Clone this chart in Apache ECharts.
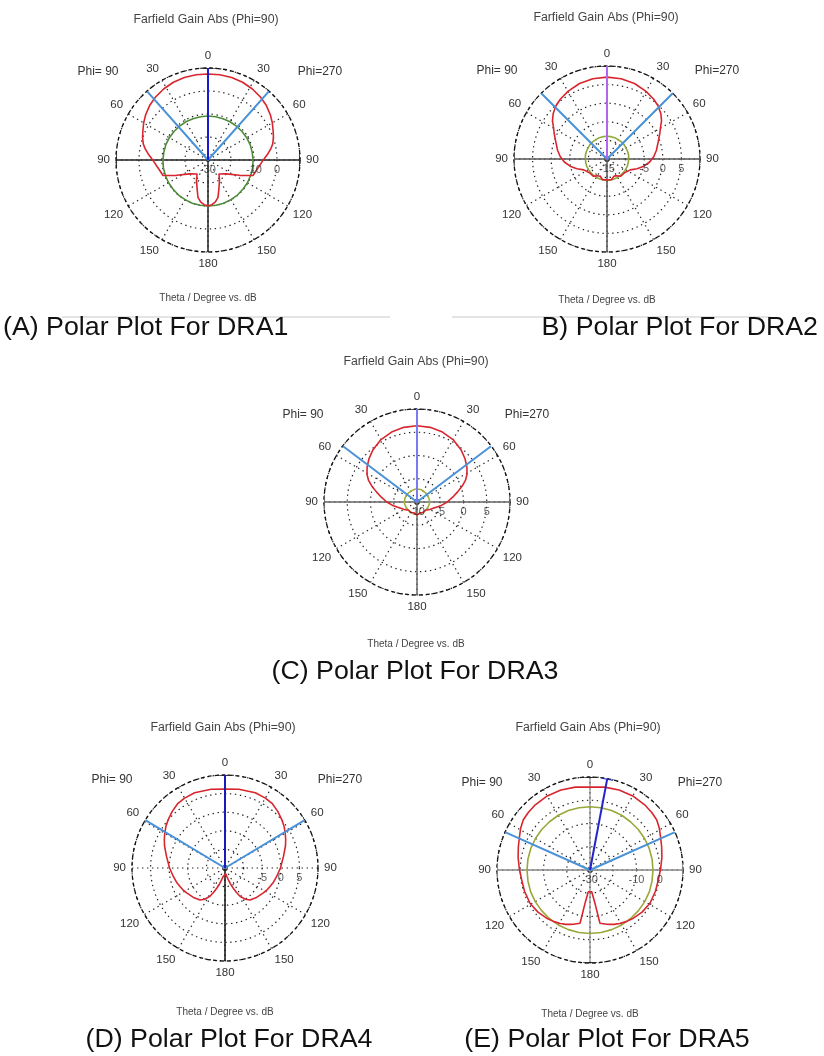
<!DOCTYPE html>
<html><head><meta charset="utf-8">
<script src="https://cdn.jsdelivr.net/npm/echarts@6/dist/echarts.min.js"></script>
<style>html,body{margin:0;padding:0;background:#fff}#c{width:824px;height:1056px}</style>
</head><body><div id="c"></div>
<script>
// ---------- data (theta in degrees, gain in dB; each pattern read for theta 0..180 and mirrored to the Phi=90 side) ----------
const A_redTheta   = [0,8,16,24,32,40,47,54,60,66,71,76,80,84,88,92,97,102,109,116,127,142,150,158,165,170,175,180];
const A_redDb      = [7.4,7.4,7.3,7.0,6.4,5.6,4.7,3.5,2.3,1.0,0.1,-1.0,-2.3,-3.8,-5.3,-6.5,-7.6,-8.5,-9.3,-14.8,-20,-22.3,-20,-17.2,-13.2,-11.5,-10.5,-10.1];
const A_greenTheta = [0,10,20,30,40,50,60,70,80,90,100,110,120,130,140,150,160,170,180];
const A_greenDb    = [-10.9,-10.9,-10.9,-10.8,-10.8,-10.7,-10.6,-10.5,-10.5,-10.4,-10.3,-10.3,-10.2,-10.2,-10.1,-10.1,-10.0,-10.0,-10.0];
const A_beamEdge = 41.6, A_mainDir = 0;
const A_rLabels = [-30,-10,0];

const B_redTheta   = [0,10,20,30,38,44,50,55,59,64,69,73,80,87,94,101,108,115,128,142,150,158,168,180];
const B_redDb      = [7.0,6.9,6.6,6.0,5.4,4.8,3.9,2.9,1.8,0.8,-0.1,-0.7,-1.5,-2.4,-3.5,-4.9,-6.5,-8.1,-9.0,-9.1,-9.8,-10.0,-9.3,-9.4];
const B_greenTheta = [0,10,20,30,40,50,60,70,80,90,100,110,120,130,140,150,160,170,180];
const B_greenDb    = [-8.9,-8.9,-8.9,-9.0,-9.0,-9.0,-9.1,-9.1,-9.1,-9.2,-9.2,-9.2,-9.3,-9.3,-9.3,-9.3,-9.3,-9.3,-9.3];
const B_beamEdge = 45, B_mainDir = 0;
const B_rLabels = [-15,-5,0,5];

const C_redTheta   = [0,10,20,30,40,48,55,61,66,71,76,82,90,98,105,113,120,135,150,165,180];
const C_redDb      = [6.4,6.3,6.0,5.5,4.7,3.9,3.1,2.3,1.4,0.2,-1.0,-2.2,-3.5,-4.7,-5.7,-6.4,-6.8,-7.5,-7.4,-7.6,-7.2];
const C_greenTheta = [0,10,20,30,40,50,60,70,80,90,100,110,120,130,140,150,160,170,180];
const C_greenDb    = [-7.2,-7.2,-7.2,-7.3,-7.3,-7.3,-7.3,-7.3,-7.3,-7.3,-7.3,-7.4,-7.4,-7.4,-7.4,-7.4,-7.4,-7.4,-7.4];
const C_beamEdge = 53, C_mainDir = 0;
const C_rLabels = [-10,-5,0,5];

const D_redTheta   = [0,10,22,30,36,43,50,55,60,65,70,79,90,99,106,112,118,123,133,142,147,152,155,158,161,164,168,172,180];
const D_redDb      = [6.2,6.5,6.8,6.7,6.5,5.8,5.0,4.4,3.7,3.0,2.3,1.0,-0.1,-0.9,-1.4,-1.9,-2.3,-2.7,-3.4,-4.1,-5.0,-6.4,-7.8,-9.2,-10.5,-11.7,-12.7,-13.4,-13.9];
const D_beamEdge = 59, D_mainDir = 0;
const D_rLabels = [-5,0,5];

const E_redTheta   = [0,10,20,30,40,47,53,59,65,72,80,89,98,108,119,129,138,145,151,156,160,163,166,169.4,171.5,175.5,180];
const E_redDb      = [5.7,6.2,6.6,6.8,6.6,6.3,5.9,4.8,3.5,2.4,1.4,0.4,-0.3,-0.4,-0.5,-1.2,-2.1,-2.9,-3.7,-4.4,-5.1,-5.6,-6.2,-6.7,-15.5,-20.6,-21.4];
const E_greenTheta = [0,10,20,30,40,50,60,70,80,90,100,110,120,130,140,150,160,170,180];
const E_greenDb    = [-2.8,-2.8,-2.8,-2.8,-2.9,-2.9,-2.9,-2.9,-2.9,-2.9,-2.9,-2.8,-2.8,-2.8,-2.8,-2.7,-2.7,-2.7,-2.7];
const E_beamEdge = 66, E_mainDir = 10.7;
const E_rLabels = [-30,-10,0];

// ---------- layout ----------
const plots = [
  {center:[208,160], radius:92, min:-30, max:10, step:10, redT:A_redTheta, red:A_redDb, greenT:A_greenTheta, green:A_greenDb, greenColor:'#4e8c3a', beam:A_beamEdge, main:A_mainDir, labels:A_rLabels, mainColor:'#1a1ad2', axisColor:'#222', hAxis:true, vFull:false},
  {center:[607,159], radius:93, min:-15, max:10, step:5, redT:B_redTheta, red:B_redDb, greenT:B_greenTheta, green:B_greenDb, greenColor:'#8fa83a', beam:B_beamEdge, main:B_mainDir, labels:B_rLabels, mainColor:'#b066ee', axisColor:'#555', hAxis:true, vFull:false},
  {center:[417,502], radius:93, min:-10, max:10, step:5, redT:C_redTheta, red:C_redDb, greenT:C_greenTheta, green:C_greenDb, greenColor:'#a3b040', beam:C_beamEdge, main:C_mainDir, labels:C_rLabels, mainColor:'#7a7af2', axisColor:'#666', hAxis:true, vFull:false},
  {center:[225,868], radius:93, min:-15, max:10, step:5, redT:D_redTheta, red:D_redDb, greenT:null, green:null, greenColor:'#8fa83a', beam:D_beamEdge, main:D_mainDir, labels:D_rLabels, mainColor:'#1a1ab8', axisColor:'#111', hAxis:false, vFull:false},
  {center:[590,870], radius:93, min:-30, max:10, step:10, redT:E_redTheta, red:E_redDb, greenT:E_greenTheta, green:E_greenDb, greenColor:'#9aa83a', beam:E_beamEdge, main:E_mainDir, labels:E_rLabels, mainColor:'#2424c8', axisColor:'#888', hAxis:true, vFull:true}
];

const FONT = 'Liberation Sans';
function closedCurve(thetas, vals) {
  const d = [];
  thetas.forEach((t, k) => d.push([vals[k], t]));
  for (let k = thetas.length - 1; k >= 0; k--) d.push([vals[k], 360 - thetas[k]]);
  return d;
}
function line(i, data, color, width, z) {
  return {type:'line', coordinateSystem:'polar', polarIndex:i, data, symbol:'none', silent:true,
          animation:false, smooth:false, z, lineStyle:{color, width}};
}
const GRID = {color:'#222', width:1.2, type:[1.4,3.6]};

const polar = [], angleAxis = [], radiusAxis = [], series = [];
plots.forEach((p, i) => {
  polar.push({center:p.center, radius:p.radius});
  angleAxis.push({polarIndex:i, type:'value', min:0, max:360, interval:30, startAngle:90, clockwise:true,
    axisLine:{show:true, lineStyle:{color:'#111', width:1.3, type:[4,3]}},
    axisTick:{show:false},
    axisLabel:{show:true, margin:6, color:'#333', fontSize:11.5, fontFamily:FONT,
      formatter:v => v >= 360 ? '' : String(v <= 180 ? v : 360 - v)},
    splitLine:{show:true, lineStyle:GRID}});
  radiusAxis.push({polarIndex:i, type:'value', min:p.min, max:p.max, interval:p.step,
    axisLine:{show:false}, axisTick:{show:false}, axisLabel:{show:false},
    splitLine:{show:true, lineStyle:GRID}});

  const mx = p.max, mn = p.min;
  if (p.hAxis) {
    series.push(line(i, [[mx,270],[mn,0],[mx,90]], p.axisColor, 1.5, 2));
    series.push(line(i, [[mx,85.5],[mx,94.5]], p.axisColor, 1.5, 2));
    series.push(line(i, [[mx,265.5],[mx,274.5]], p.axisColor, 1.5, 2));
  }
  if (p.vFull) {
    series.push(line(i, [[mx,0],[mn,0],[mx,180]], p.axisColor, 1.2, 2));
    series.push(line(i, [[mx,175.5],[mx,184.5]], '#222', 1.5, 2));
  } else {
    series.push(line(i, [[mn,0],[mx,180]], p.axisColor, 1.5, 2));
  }
  series.push(line(i, [[mx,355.5],[mx,4.5]], '#222', 1.5, 2));
  if (p.green) series.push(line(i, closedCurve(p.greenT, p.green), p.greenColor, 1.6, 3));
  series.push(line(i, closedCurve(p.redT, p.red), '#d8262e', 1.6, 4));
  series.push(line(i, [[mx, 360 - p.beam],[mn,0],[mx, p.beam]], '#4a92d8', 2, 5));
  series.push(line(i, [[mn,0],[mx, p.main]], p.mainColor, 2, 6));
  if (p.main !== 0) series.push(line(i, [[mx, p.main - 3.5],[mx, p.main + 3.5]], p.mainColor, 2, 6));
  series.push({type:'scatter', coordinateSystem:'polar', polarIndex:i, silent:true, animation:false, z:7,
    data:p.labels.map(v => [v, 90]), symbolSize:1, itemStyle:{color:'rgba(0,0,0,0)'},
    label:{show:true, position:'bottom', distance:4, formatter:q => String(q.value[0]),
      color:'#333', fontSize:11, fontFamily:FONT}});
});

function txt(text, x, y, size, color, align, sx) {
  return {type:'text', silent:true, x, y, scaleX:sx || 1,
    style:{text, x:0, y:0, fill:color, font:size + 'px "' + FONT + '"',
    textAlign:align || 'center', textVerticalAlign:'middle'}};
}
const CAP = 25, CSX = 1.07, TT = 12.3, BT = 10, PH = 12;
const graphic = [
  {type:'line', silent:true, shape:{x1:62, y1:317, x2:390, y2:317}, style:{stroke:'#e4e4e4', lineWidth:2}},
  {type:'line', silent:true, shape:{x1:452, y1:317, x2:770, y2:317}, style:{stroke:'#e4e4e4', lineWidth:2}},
  txt('Farfield Gain Abs (Phi=90)', 206, 20, TT, '#444'),
  txt('Phi= 90', 98, 72, PH, '#333'), txt('Phi=270', 320, 72, PH, '#333'),
  txt('Theta / Degree vs. dB', 208, 298, BT, '#444'),
  txt('(A) Polar Plot For DRA1', 3, 328, CAP, '#111', 'left', CSX),

  txt('Farfield Gain Abs (Phi=90)', 606, 18, TT, '#444'),
  txt('Phi= 90', 497, 71, PH, '#333'), txt('Phi=270', 717, 71, PH, '#333'),
  txt('Theta / Degree vs. dB', 607, 300, BT, '#444'),
  txt('B) Polar Plot For DRA2', 818, 328, CAP, '#111', 'right', CSX),

  txt('Farfield Gain Abs (Phi=90)', 416, 362, TT, '#444'),
  txt('Phi= 90', 303, 415, PH, '#333'), txt('Phi=270', 527, 415, PH, '#333'),
  txt('Theta / Degree vs. dB', 416, 644, BT, '#444'),
  txt('(C) Polar Plot For DRA3', 415, 672, CAP, '#111', 'center', CSX),

  txt('Farfield Gain Abs (Phi=90)', 223, 728, TT, '#444'),
  txt('Phi= 90', 112, 780, PH, '#333'), txt('Phi=270', 340, 780, PH, '#333'),
  txt('Theta / Degree vs. dB', 225, 1012, BT, '#444'),
  txt('(D) Polar Plot For DRA4', 229, 1040, CAP, '#111', 'center', CSX),

  txt('Farfield Gain Abs (Phi=90)', 588, 728, TT, '#444'),
  txt('Phi= 90', 482, 783, PH, '#333'), txt('Phi=270', 700, 783, PH, '#333'),
  txt('Theta / Degree vs. dB', 590, 1014, BT, '#444'),
  txt('(E) Polar Plot For DRA5', 607, 1040, CAP, '#111', 'center', CSX)
];

const chart = echarts.init(document.getElementById('c'), null, {renderer:'canvas'});
chart.setOption({animation:false, backgroundColor:'#fff', polar, angleAxis, radiusAxis, series, graphic});
</script></body></html>
